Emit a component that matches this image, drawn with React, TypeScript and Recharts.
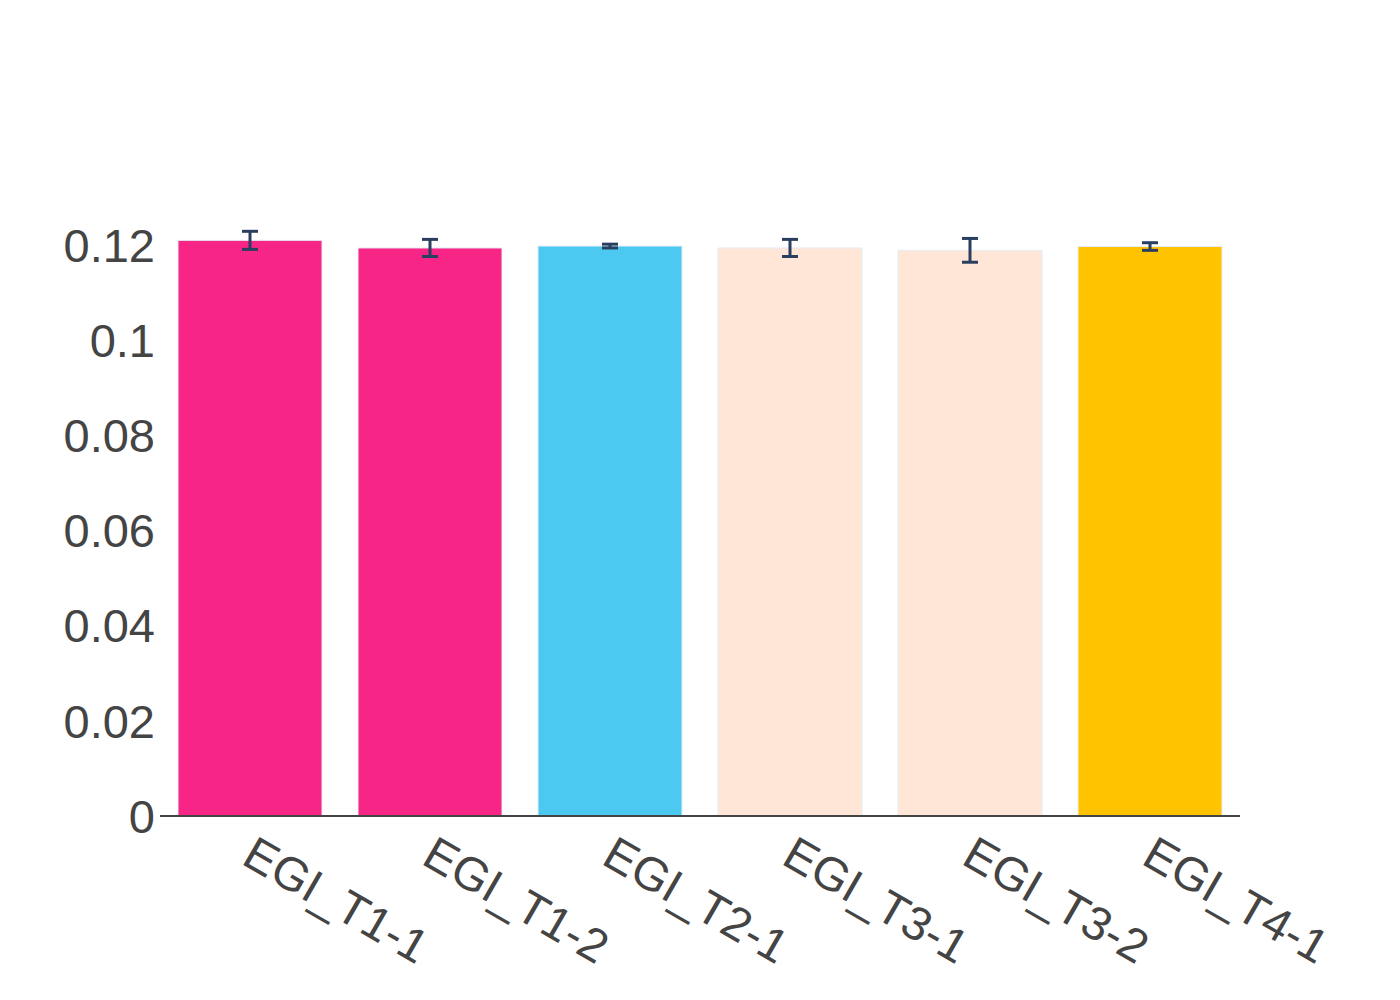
import { BarChart, Bar, XAxis, YAxis, CartesianGrid, ErrorBar, Cell } from 'recharts';

const samples = ['EGI_T1-1', 'EGI_T1-2', 'EGI_T2-1', 'EGI_T3-1', 'EGI_T3-2', 'EGI_T4-1'];
const means = [0.121, 0.1194, 0.1198, 0.1194, 0.1189, 0.1197];
const errors = [0.0019, 0.0018, 0.0004, 0.0018, 0.0025, 0.0008];
const colors = ['#F72585', '#F72585', '#4CC9F0', '#FFE6D6', '#FFE6D6', '#FFC300'];
const yTicks = [0, 0.02, 0.04, 0.06, 0.08, 0.1, 0.12];

const data = samples.map((name, i) => ({ name, value: means[i], err: errors[i] }));

const FONT = '"Liberation Sans", Arial, sans-serif';

function AngledTick(props: any) {
  const { x, y, payload } = props;
  const tx = x - 10;
  const ty = y + 45;
  return (
    <text
      x={tx}
      y={ty}
      transform={`rotate(30, ${tx}, ${ty})`}
      textAnchor="start"
      fill="#444"
      fontSize={47}
      fontFamily={FONT}
    >
      {payload.value}
    </text>
  );
}

// only draw grid lines at the listed ticks, not at the top of the plot
const gridRows = (args: any) => {
  const scale = args?.yAxis?.scale;
  if (typeof scale === 'function') return yTicks.map((t) => scale(t));
  return [];
};

export default function App() {
  return (
    <div style={{ position: 'absolute', left: 0, top: 0, background: '#fff' }}>
      <BarChart
        width={1400}
        height={1000}
        data={data}
        margin={{ top: 100, right: 160, left: 0, bottom: 0 }}
        barCategoryGap="10%"
      >
        <CartesianGrid vertical={false} stroke="#eeeeee" strokeWidth={2} horizontalCoordinatesGenerator={gridRows} />
        <XAxis
          dataKey="name"
          height={184}
          tickLine={false}
          tickSize={0}
          axisLine={{ stroke: '#444', strokeWidth: 2 }}
          tick={<AngledTick />}
          interval={0}
        />
        <YAxis
          width={160}
          domain={[0, 0.1505]}
          ticks={yTicks}
          axisLine={false}
          tickLine={false}
          tickSize={0}
          tickMargin={5}
          tick={{ fill: '#444', fontSize: 47, fontFamily: FONT }}
        />
        <Bar dataKey="value" isAnimationActive={false} stroke="#E5ECF6" strokeWidth={1}>
          {data.map((d, i) => (
            <Cell key={d.name} fill={colors[i]} />
          ))}
          <ErrorBar dataKey="err" direction="y" width={8} strokeWidth={3} stroke="#2a3f5f" />
        </Bar>
      </BarChart>
    </div>
  );
}
